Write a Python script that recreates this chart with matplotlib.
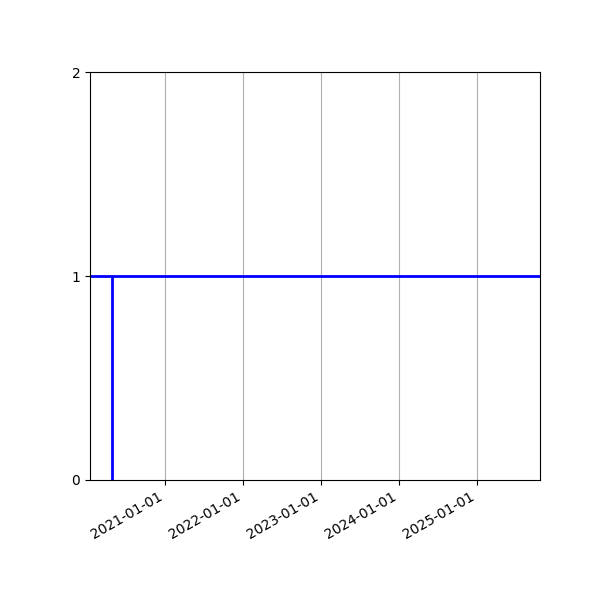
import matplotlib
matplotlib.use("Agg")
import matplotlib.pyplot as plt
import matplotlib.dates as mdates
import numpy as np

# data
event_date = np.datetime64("2020-04-26")
level = 1
x_start = np.datetime64("2020-01-14")
x_end = np.datetime64("2025-10-23")
y_ticks = [0, 1, 2]

fig, ax = plt.subplots(figsize=(6, 6), dpi=100)

ax.axhline(level, color="blue", lw=2)
ax.vlines(event_date, 0, level, color="blue", lw=2)

ax.set_xlim(x_start, x_end)
ax.set_ylim(0, 2)
ax.set_yticks(y_ticks)
ax.xaxis.set_major_locator(mdates.YearLocator())
ax.xaxis.set_major_formatter(mdates.DateFormatter("%Y-%m-%d"))
ax.grid(True, axis="x")

fig.autofmt_xdate()
fig.subplots_adjust(left=0.15, right=0.9, top=0.88, bottom=0.2)

fig.savefig("out.png")
